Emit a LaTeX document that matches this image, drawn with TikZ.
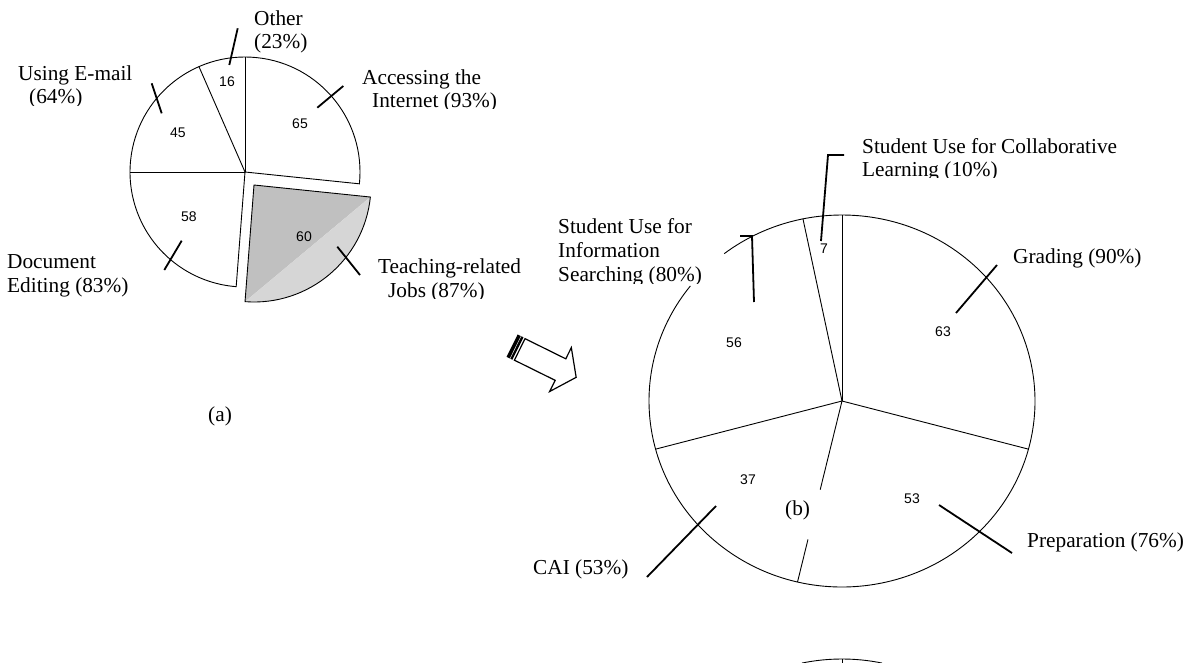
\documentclass[tikz,border=0pt]{standalone}
\usepackage{fontspec}
\setmainfont{Liberation Serif}
\newfontfamily\numfont{Liberation Sans}
\usetikzlibrary{calc}
\definecolor{wedgedark}{HTML}{C0C0C0}
\definecolor{wedgelight}{HTML}{D6D6D6}
\begin{document}
\begin{tikzpicture}[x=1pt,y=-1pt,
  lbl/.style={font=\fontsize{21.3}{23.5}\selectfont, inner sep=0pt, anchor=base west},
  num/.style={font=\numfont\fontsize{14}{16}\selectfont, inner sep=0pt},
  pie/.style={line width=0.9pt},
  lead/.style={line width=1.8pt},
  ]
\useasboundingbox (0,0) rectangle (1189,662);

% ---------- pie (a) ----------
\coordinate (ca) at (245,172);
\coordinate (ta) at (254,185);
\coordinate (t1) at ($(ta)+(-265.6:117)$);
\coordinate (t2) at ($(ta)+(-354.1:117)$);
\fill[wedgedark] (ta) -- (t1) -- (t2) -- cycle;
\fill[wedgelight] (t1) arc[start angle=-265.6, end angle=-354.1, radius=117] -- cycle;
\draw[pie] (ta) -- (t1) arc[start angle=-265.6, end angle=-354.1, radius=117] -- cycle;

\draw[pie] (ca) -- ($(ca)+(5.9:115)$) arc[start angle=5.9, end angle=-265.6, radius=115] -- cycle;
\draw[pie] (ca) -- +(-90:115);
\draw[pie] (ca) -- +(-113.6:115);
\draw[pie] (ca) -- +(180:115);

\node[num] (n16) at (227,82) {16};
\node[num] (n45) at (178,133) {45};
\node[num] (n65) at (300,124) {65};
\node[num] (n58) at (189,217) {58};
\node[num] (n60) at (304,237) {60};

\draw[lead] (237.7,28.3) -- (229.3,65);
\draw[lead] (151.7,83.3) -- (161.7,113.3);
\draw[lead] (343.3,86) -- (317.3,107.7);
\draw[lead] (181.7,240.7) -- (164.3,270);
\draw[lead] (337.3,246.7) -- (360,275);

\node[lbl] (oth1) at (254,25) {Other};
\node[lbl] (oth2) at (254,48) {(23\%)};
\node[lbl] (em1) at (18,80) {Using E-mail};
\begin{scope}
  \clip (0,0) rectangle (1189,105);
  \node[lbl] (em2) at (29,103) {(64\%)};
\end{scope}
\node[lbl] (acc1) at (362,84) {Accessing the};
\begin{scope}
  \clip (0,0) rectangle (1189,108);
  \node[lbl] (acc2) at (372,107) {Internet (93\%)};
\end{scope}
\node[lbl] (doc1) at (7,268) {Document};
\node[lbl] (doc2) at (7,292) {Editing (83\%)};
\node[lbl] (tea1) at (378,273) {Teaching-related};
\begin{scope}
  \clip (0,0) rectangle (1189,298);
  \node[lbl] (tea2) at (388,297) {Jobs (87\%)};
\end{scope}
\node[lbl] (la) at (208,421) {(a)};

% ---------- arrow ----------
\begin{scope}[shift={(522.4,350.75)}, x={(0.896pt,-0.443pt)}, y={(-0.443pt,-0.896pt)}]
  \draw[line width=1.2pt, fill=white] (-3,-12) -- (42.5,-12) -- (42.5,-24.5) -- (60,0)
     -- (42.5,24.5) -- (42.5,12) -- (-3,12) -- cycle;
  \fill (-11.5,-12.5) -- (-8,-12.5) -- (-8,12.5) -- (-11.5,12.5) -- cycle;
  \fill (-7.3,-12.5) -- (-5,-12.5) -- (-5,12.5) -- (-7.3,12.5) -- cycle;
\end{scope}

% ---------- pie (b) ----------
\coordinate (cb) at (842,401);
\coordinate (e3) at ($(cb)+(103.33:193 and 186)$);
\draw[pie] ($(cb)+(-141.8:193 and 186)$) arc[start angle=-141.8, end angle=-487.6, x radius=193, y radius=186];
\draw[pie] (cb) -- +(-90:193 and 186);
\draw[pie] (cb) -- +(15:193 and 186);
\draw[pie] (cb) -- +(-195:193 and 186);
\draw[pie] (cb) -- +(-101.67:193 and 186);
\draw[pie] (cb) -- ($(cb)!0.49!(e3)$);
\draw[pie] ($(cb)!0.765!(e3)$) -- (e3);

\node[num] (n7) at (824,249) {7};
\node[num] (n56) at (734,343) {56};
\node[num] (n63) at (943,332) {63};
\node[num] (n37) at (748,480) {37};
\node[num] (n53) at (912,499) {53};

\draw[lead] (844,155) -- (828,155) -- (821,241);
\draw[lead] (740,236) -- (752,236) -- (754,302);
\draw[lead] (956,313) -- (997,265);
\draw[lead] (939,505) -- (1012,553);
\draw[lead] (716,506) -- (647,577);

\node[lbl] (col1) at (862,153) {Student Use for Collaborative};
\begin{scope}
  \clip (0,0) rectangle (1189,177.5);
  \node[lbl] (col2) at (862,176) {Learning (10\%)};
\end{scope}
\node[lbl] (inf1) at (558,233) {Student Use for};
\node[lbl] (inf2) at (558,257) {Information};
\begin{scope}
  \clip (0,0) rectangle (1189,283);
  \node[lbl] (inf3) at (558,281) {Searching (80\%)};
\end{scope}
\node[lbl] (gra) at (1013,263) {Grading (90\%)};
\node[lbl] (pre) at (1027,547) {Preparation (76\%)};
\node[lbl] (cai) at (533,574) {CAI (53\%)};
\node[lbl] (lb) at (785,515) {(b)};

% ---------- pie (c), top edge only ----------
\coordinate (cc) at (842,845);
\draw[pie] ($(cc)+(-78:193 and 186)$) arc[start angle=-78, end angle=-102, x radius=193, y radius=186];
\draw[pie] (cc) -- +(-90:193 and 186);
\end{tikzpicture}
\end{document}
